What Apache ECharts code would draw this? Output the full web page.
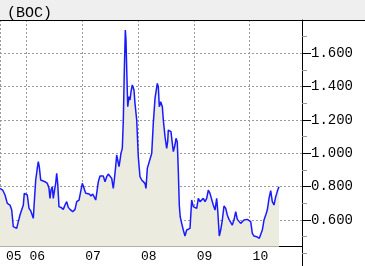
<!DOCTYPE html>
<html><head><meta charset="utf-8">
<script src="https://cdn.jsdelivr.net/npm/echarts@6/dist/echarts.min.js"></script>
<style>html,body{margin:0;padding:0;background:#fff}#c{width:365px;height:266px}</style>
</head><body><div id="c"></div>
<script>
const titleText = '(BOC)';
const dates = [
2005.527,2005.575,2005.617,2005.658,2005.706,2005.737,2005.765,2005.796,2005.826,2005.855,
2005.885,2005.916,2005.945,2005.962,2005.993,2006.016,2006.047,2006.077,2006.106,2006.124,
2006.142,2006.167,2006.195,2006.213,2006.231,2006.256,2006.285,2006.333,2006.375,2006.405,
2006.423,2006.441,2006.464,2006.482,2006.500,2006.525,2006.543,2006.561,2006.584,2006.620,
2006.661,2006.692,2006.722,2006.751,2006.781,2006.830,2006.871,2006.902,2006.943,2006.973,
2007.002,2007.032,2007.063,2007.091,2007.127,2007.158,2007.188,2007.212,2007.242,2007.260,
2007.289,2007.319,2007.350,2007.378,2007.409,2007.439,2007.468,2007.498,2007.529,2007.557,
2007.575,2007.600,2007.618,2007.636,2007.660,2007.678,2007.695,2007.719,2007.737,2007.755,
2007.773,2007.785,2007.798,2007.816,2007.839,2007.857,2007.875,2007.898,2007.916,2007.928,
2007.946,2007.977,2008.005,2008.036,2008.066,2008.095,2008.125,2008.143,2008.167,2008.197,
2008.228,2008.246,2008.274,2008.305,2008.323,2008.346,2008.364,2008.382,2008.407,2008.436,
2008.454,2008.484,2008.514,2008.532,2008.543,2008.574,2008.591,2008.615,2008.633,2008.663,
2008.681,2008.704,2008.722,2008.740,2008.756,2008.783,2008.812,2008.842,2008.873,2008.901,
2008.932,2008.962,2008.991,2009.022,2009.052,2009.081,2009.111,2009.142,2009.170,2009.201,
2009.231,2009.260,2009.290,2009.321,2009.349,2009.380,2009.410,2009.428,2009.457,2009.482,
2009.511,2009.541,2009.572,2009.600,2009.631,2009.661,2009.690,2009.720,2009.751,2009.780,
2009.810,2009.840,2009.869,2009.900,2009.930,2009.959,2009.989,2010.020,2010.049,2010.079,
2010.127,2010.174,2010.199,2010.228,2010.258,2010.289,2010.317,2010.348,2010.378,2010.407,
2010.437,2010.468,2010.486,2010.504,2010.527
];
const prices = [
0.79,0.78,0.75,0.70,0.69,0.66,0.56,0.55,0.55,0.59,
0.63,0.64,0.69,0.76,0.76,0.75,0.67,0.656,0.65,0.61,
0.71,0.84,0.91,0.95,0.92,0.84,0.83,0.83,0.82,0.79,
0.73,0.78,0.80,0.73,0.77,0.82,0.88,0.82,0.68,0.676,
0.664,0.69,0.71,0.676,0.664,0.65,0.664,0.71,0.72,0.72,
0.82,0.83,0.76,0.75,0.756,0.744,0.756,0.74,0.72,0.76,
0.83,0.864,0.87,0.864,0.83,0.86,0.876,0.87,0.85,0.79,
0.84,0.92,0.99,0.96,0.92,0.96,1.00,1.03,1.20,1.50,
1.74,1.68,1.50,1.28,1.34,1.32,1.37,1.41,1.40,1.38,
1.30,1.20,0.98,0.86,0.84,0.84,0.82,0.79,0.91,0.92,
0.98,1.00,1.18,1.33,1.37,1.42,1.40,1.28,1.31,1.28,
1.20,1.10,1.03,1.07,1.14,1.14,1.13,1.06,1.01,1.05,
1.09,1.07,0.90,0.69,0.62,0.58,0.54,0.504,0.54,0.544,
0.55,0.72,0.68,0.67,0.67,0.73,0.71,0.72,0.73,0.71,
0.73,0.78,0.76,0.75,0.69,0.66,0.73,0.66,0.504,0.54,
0.60,0.684,0.67,0.63,0.604,0.596,0.57,0.60,0.65,0.604,
0.60,0.58,0.57,0.60,0.61,0.604,0.614,0.59,0.52,0.504,
0.50,0.49,0.484,0.54,0.60,0.63,0.66,0.73,0.776,0.71,
0.69,0.74,0.76,0.78,0.80
];
const yTickValues = [0.6, 0.8, 1.0, 1.2, 1.4, 1.6];
const yearTicks = [2006, 2007, 2008, 2009, 2010];
const yearLabels = ['05', '06', '07', '08', '09', '10'];
const yearLabelValues = [2005.58, 2006, 2007, 2008, 2009, 2010];

const X_MIN = 2005.527, X_MAX = 2010.939;
const gridLine = { show: true, lineStyle: { color: '#9a9a9a', width: 1, type: [2, 2] } };
const chart = echarts.init(document.getElementById('c'), null, { renderer: 'canvas' });
const seriesData = dates.map((d, i) => [d, prices[i]]);
chart.setOption({
  animation: false,
  backgroundColor: '#fff',
  title: {
    text: titleText, left: 2, top: 1,
    textStyle: { fontFamily: 'Liberation Mono', fontSize: 15, fontWeight: 'normal', color: '#000' }
  },
  graphic: [
    { type: 'rect', left: 0, top: 0, shape: { width: 365, height: 20 }, style: { fill: '#efefef' }, z: -10 },
    { type: 'line', shape: { x1: 0, y1: 20.5, x2: 365, y2: 20.5 }, style: { stroke: '#000', lineWidth: 1 }, z: 100 }
  ],
  grid: [
    { left: 0, right: 63, top: 20, bottom: 19.3 },
    { left: 0, right: 63, top: 246.7, bottom: 0 }
  ],
  xAxis: [
    {
      type: 'value', gridIndex: 0, min: X_MIN, max: X_MAX,
      axisLine: { show: true, onZero: false, lineStyle: { color: '#000', width: 1 } },
      axisTick: { show: false, customValues: [X_MIN].concat(yearTicks) },
      splitLine: gridLine,
      axisLabel: {
        customValues: yearLabelValues,
        formatter: v => { const i = yearLabelValues.findIndex(y => Math.abs(y - v) < 1e-6); return i >= 0 ? yearLabels[i] : ''; },
        align: 'left', padding: [0, 0, 0, 3], margin: 3,
        fontFamily: 'Liberation Mono', fontSize: 13, color: '#000'
      }
    },
    { type: 'value', gridIndex: 1, min: X_MIN, max: X_MAX, show: false }
  ],
  yAxis: [
    {
      type: 'value', gridIndex: 0, position: 'right', min: 0.44, max: 1.8, splitNumber: 7,
      axisLine: { show: true, lineStyle: { color: '#000', width: 1 } },
      axisTick: { show: true, customValues: yTickValues, length: 9, lineStyle: { color: '#000' } },
      minorTick: { show: true, splitNumber: 2, length: 5, lineStyle: { color: '#999' } },
      splitLine: gridLine,
      axisLabel: {
        customValues: yTickValues, formatter: v => v.toFixed(3), margin: 9,
        fontFamily: 'Liberation Mono', fontSize: 14, color: '#000'
      }
    },
    {
      type: 'value', gridIndex: 1, position: 'right', min: 0.324, max: 0.44,
      axisLine: { show: true, lineStyle: { color: '#000', width: 1 } },
      axisTick: { show: true, customValues: [0.4], length: 5, lineStyle: { color: '#999' } },
      axisLabel: { show: false }, splitLine: { show: false }
    }
  ],
  series: [{
    type: 'line', xAxisIndex: 0, yAxisIndex: 0, data: seriesData,
    showSymbol: false, symbol: 'none',
    lineStyle: { color: '#1a1aff', width: 1.5 },
    areaStyle: { color: '#ecebdf', opacity: 1 }
  }]
});
</script></body></html>
